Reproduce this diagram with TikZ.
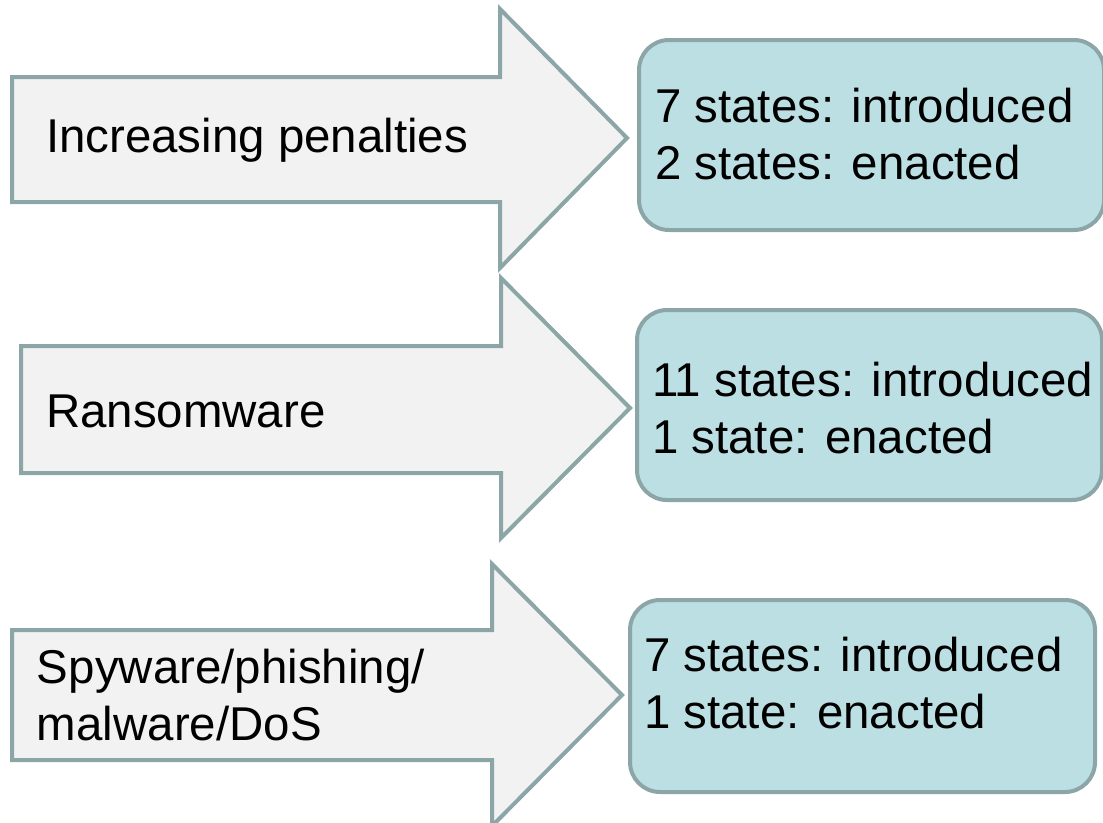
\documentclass[tikz,border=0pt]{standalone}
\usepackage{fontspec}
\setmainfont{Liberation Sans}
\usetikzlibrary{positioning}

\definecolor{edgegray}{HTML}{8CA6A8}
\definecolor{arrowfill}{HTML}{F2F2F2}
\definecolor{boxfill}{HTML}{BBDFE3}

\begin{document}
\begin{tikzpicture}[x=0.1mm, y=-0.1mm, line width=0.4mm,
    bigarrow/.style={draw=edgegray, fill=arrowfill, line join=miter},
    resbox/.style={rectangle, draw=edgegray, fill=boxfill, rounded corners=3mm, anchor=north west, minimum width=4.65cm, minimum height=1.9cm, inner sep=0pt},
    lbl/.style={anchor=base west, align=left, inner sep=0pt, font=\fontsize{13.5}{16.2}\selectfont}]

    \useasboundingbox (0,0) rectangle (1103,822);

    % big arrows
    \draw[bigarrow] (12,77) -- (500,77) -- (500,9) -- (627,138) -- (500,268) -- (500,202) -- (12,202) -- cycle;
    \draw[bigarrow] (21,346) -- (501,346) -- (501,278) -- (630,408) -- (501,538) -- (501,473) -- (21,473) -- cycle;
    \draw[bigarrow] (12,630) -- (492,630) -- (492,564) -- (622,695) -- (492,826) -- (492,760) -- (12,760) -- cycle;

    % result boxes
    \node[resbox] (penalbox) at (637,38) {};
    \node[resbox] (ransombox) at (635,308) {};
    \node[resbox, minimum height=1.92cm] (spybox) at (628,598) {};

    % labels (base = last line)
    \node[lbl] (penal) at (44,152) {Increasing penalties};
    \node[lbl] (ransom) at (44,427) {Ransomware};
    \node[lbl] (spy) at (35,740) {Spyware/phishing/\\malware/DoS};

    \node[lbl] (penaltxt) at (653,179) {7 states: introduced\\2 states: enacted};
    \node[lbl] (ransomtxt) at (650,453) {11 states: introduced\\1 state: enacted};
    \node[lbl] (spytxt) at (642,728) {7 states: introduced\\1 state: enacted};

\end{tikzpicture}
\end{document}
